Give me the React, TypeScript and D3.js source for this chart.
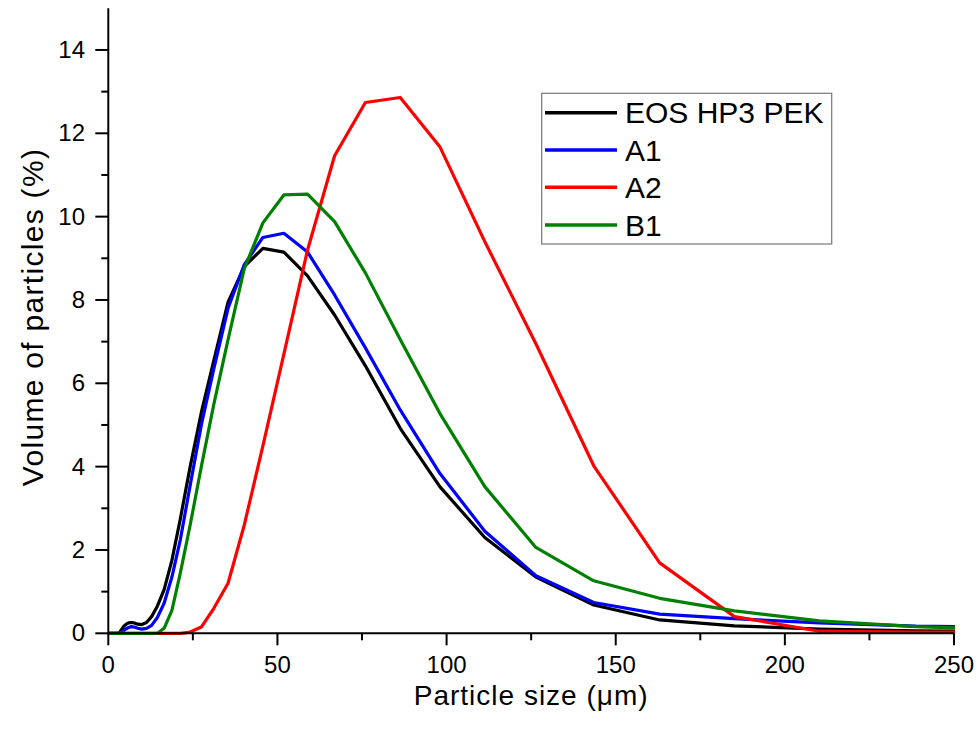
import React from "react";
import * as d3 from "d3";

const sizes = [0.3, 1.0, 2.0, 2.8, 3.2, 3.6, 4.1, 4.6, 5.3, 6.0, 6.8, 7.7, 8.7, 9.9, 11.3, 12.8, 14.5, 16.5, 18.8, 21.3, 24.2, 27.5, 31.2, 35.4, 40.2, 45.7, 51.9, 58.9, 66.9, 76.0, 86.3, 98.0, 111.3, 126.4, 143.5, 163.0, 185.1, 210.2, 238.7, 271.0];

const eos = [0, 0, 0, 0, 0.01, 0.05, 0.11, 0.17, 0.22, 0.25, 0.26, 0.25, 0.22, 0.21, 0.26, 0.4, 0.65, 1.05, 1.75, 2.75, 4.0, 5.3, 6.55, 7.95, 8.8, 9.24, 9.15, 8.58, 7.64, 6.42, 4.92, 3.52, 2.3, 1.35, 0.68, 0.32, 0.18, 0.1, 0.06, 0.04];
const a1 = [0, 0, 0, 0, 0, 0, 0.03, 0.07, 0.11, 0.14, 0.16, 0.15, 0.12, 0.1, 0.12, 0.19, 0.38, 0.72, 1.35, 2.25, 3.55, 5.0, 6.35, 7.8, 8.85, 9.5, 9.6, 9.15, 8.12, 6.85, 5.36, 3.84, 2.45, 1.38, 0.74, 0.46, 0.35, 0.25, 0.17, 0.15];
const a2 = [0, 0, 0, 0, 0, 0, 0, 0, 0, 0, 0, 0, 0, 0, 0, 0, 0, 0, 0, 0, 0.03, 0.15, 0.6, 1.2, 2.6, 4.5, 6.7, 9.2, 11.46, 12.74, 12.86, 11.68, 9.4, 6.95, 4.02, 1.69, 0.4, 0.05, 0.03, 0.02];
const b1 = [0, 0, 0, 0, 0, 0, 0, 0, 0, 0, 0, 0, 0, 0, 0, 0, 0, 0.12, 0.55, 1.45, 2.6, 4.0, 5.5, 7.05, 8.75, 9.85, 10.52, 10.54, 9.88, 8.65, 7.05, 5.28, 3.52, 2.06, 1.26, 0.84, 0.54, 0.3, 0.16, 0.08];

const seriesNames = ["EOS HP3 PEK", "A1", "A2", "B1"];
const seriesValues = [eos, a1, a2, b1];
const seriesColors = ["#000000", "#0000ff", "#ff0000", "#008000"];

const xTicks = [0, 50, 100, 150, 200, 250];
const xMinor = [25, 75, 125, 175, 225];
const yTicks = [0, 2, 4, 6, 8, 10, 12, 14];
const yMinor = [1, 3, 5, 7, 9, 11, 13];

const xTitle = "Particle size (\u03bcm)";
const yTitle = "Volume of particles (%)";

const FONT = "'Liberation Sans', Arial, sans-serif";

export default function App() {
  const W = 979, H = 738;
  const left = 108.3, right = 954, top = 8.3, bottom = 633.3;
  const x = d3.scaleLinear().domain([0, 250]).range([left, right]);
  const y = d3.scaleLinear().domain([0, 15]).range([bottom, top]);
  const line = d3.line<[number, number]>().x(d => x(d[0])).y(d => y(d[1])).curve(d3.curveLinear);

  const legendX = 541.7, legendY = 93.3, legendW = 290, legendH = 150.7;
  const rowYs = [112.7, 150, 187.3, 225];

  return (
    <svg width={W} height={H} style={{ position: "absolute", left: 0, top: 0, background: "#fff" }}>
      <defs>
        <clipPath id="plotclip">
          <rect x={left} y={0} width={right - left + 1} height={bottom + 3} />
        </clipPath>
      </defs>
      <rect x={0} y={0} width={W} height={H} fill="#fff" />
      <g clipPath="url(#plotclip)">
        {seriesValues.map((vals, i) => (
          <path key={i}
            d={line(sizes.map((s, k) => [s, vals[k]] as [number, number])) || ""}
            fill="none" stroke={seriesColors[i]} strokeWidth={3.2} strokeLinejoin="round" />
        ))}
      </g>
      {/* axes */}
      <line x1={left} x2={left} y1={top} y2={bottom + 1} stroke="#000" strokeWidth={2} />
      <line x1={left - 1} x2={right} y1={bottom} y2={bottom} stroke="#000" strokeWidth={2} />
      {xTicks.map(t => (
        <g key={"xt" + t}>
          <line x1={x(t)} x2={x(t)} y1={bottom} y2={bottom + 12} stroke="#000" strokeWidth={2} />
          <text x={x(t)} y={673} textAnchor="middle" fontFamily={FONT} fontSize={24} fill="#000">{t}</text>
        </g>
      ))}
      {xMinor.map(t => (
        <line key={"xm" + t} x1={x(t)} x2={x(t)} y1={bottom} y2={bottom + 7} stroke="#000" strokeWidth={2} />
      ))}
      {yTicks.map(t => (
        <g key={"yt" + t}>
          <line x1={left} x2={left - 13} y1={y(t)} y2={y(t)} stroke="#000" strokeWidth={2} />
          <text x={85} y={y(t) + 8} textAnchor="end" fontFamily={FONT} fontSize={24} fill="#000">{t}</text>
        </g>
      ))}
      {yMinor.map(t => (
        <line key={"ym" + t} x1={left} x2={left - 7} y1={y(t)} y2={y(t)} stroke="#000" strokeWidth={2} />
      ))}
      <text x={(left + right) / 2} y={705} textAnchor="middle" fontFamily={FONT} fontSize={28} letterSpacing={1} fill="#000">{xTitle}</text>
      <text transform={`translate(43, 317) rotate(-90)`} textAnchor="middle" fontFamily={FONT} fontSize={30} letterSpacing={1.3} fill="#000">{yTitle}</text>
      {/* legend */}
      <rect x={legendX} y={legendY} width={legendW} height={legendH} fill="#fff" stroke="#777" strokeWidth={1.2} />
      {seriesNames.map((n, i) => (
        <g key={n}>
          <line x1={545} x2={617} y1={rowYs[i]} y2={rowYs[i]} stroke={seriesColors[i]} strokeWidth={3.5} />
          <text x={625} y={rowYs[i] + 10.5} fontFamily={FONT} fontSize={30} fill="#000">{n}</text>
        </g>
      ))}
    </svg>
  );
}
